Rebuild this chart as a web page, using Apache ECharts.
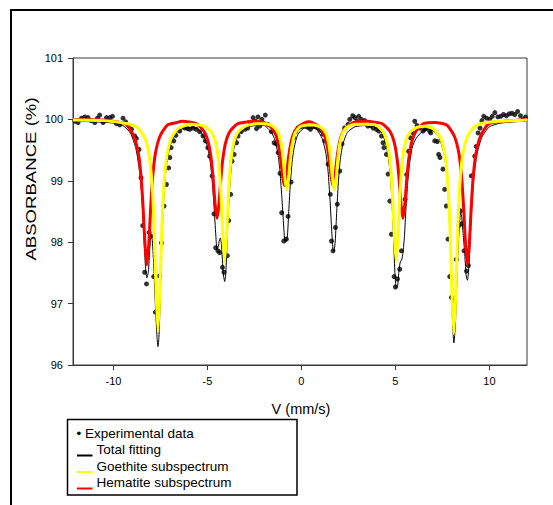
<!DOCTYPE html>
<html>
<head>
<meta charset="utf-8">
<script src="https://cdn.jsdelivr.net/npm/echarts@6/dist/echarts.min.js"></script>
<style>
html,body{margin:0;padding:0;background:#fff;}
#chart{width:553px;height:505px;}
</style>
</head>
<body>
<div id="chart"></div>
<script>
// ---- data: [velocity (mm/s), absorbance (%)] ----
const experimentalData = [
[-12.05,99.97],[-11.88,99.95],[-11.70,100.02],[-11.52,100.04],[-11.35,100.03],[-11.18,99.98],[-10.99,99.95],[-10.85,100.02],[-10.73,100.07],[-10.55,99.95],[-10.37,100.03],[-10.20,100.03],[-10.05,100.05],[-9.84,99.93],[-9.66,99.91],[-9.49,100.02],[-9.35,99.96],[-9.20,99.90],[-9.04,99.84],[-8.87,99.73],[-8.78,99.69],[-8.64,99.51],[-8.53,99.05],[-8.44,98.27],[-8.34,97.51],[-8.24,97.32],[-8.10,98.16],[-8.00,98.10],[-7.86,97.44],[-7.77,96.86],[-7.63,96.99],[-7.54,97.45],[-7.45,97.99],[-7.31,98.59],[-7.18,98.94],[-7.06,99.21],[-7.00,99.38],[-6.93,99.54],[-6.79,99.65],[-6.68,99.74],[-6.47,99.81],[-6.20,99.86],[-6.05,99.85],[-5.94,99.84],[-5.77,99.86],[-5.60,99.84],[-5.42,99.80],[-5.23,99.73],[-5.11,99.65],[-4.98,99.54],[-4.88,99.40],[-4.75,99.08],[-4.65,98.46],[-4.56,97.91],[-4.44,97.86],[-4.35,97.83],[-4.20,97.59],[-4.12,97.51],[-3.94,97.78],[-3.87,98.35],[-3.76,98.78],[-3.69,99.32],[-3.58,99.43],[-3.45,99.62],[-3.37,99.73],[-3.20,99.80],[-3.00,99.84],[-2.85,99.86],[-2.70,99.95],[-2.57,100.03],[-2.45,99.97],[-2.39,99.85],[-2.31,100.04],[-2.22,99.89],[-2.10,100.00],[-1.92,100.07],[-1.78,99.92],[-1.60,99.80],[-1.45,99.62],[-1.33,99.60],[-1.24,99.46],[-1.14,99.12],[-1.05,98.48],[-0.94,98.02],[-0.80,98.05],[-0.71,98.42],[-0.55,98.98],[-0.41,99.70],[-0.30,99.80],[-0.18,99.86],[-0.05,99.88],[0.09,99.89],[0.22,99.91],[0.35,99.87],[0.48,99.84],[0.62,99.89],[0.75,99.88],[0.88,99.86],[1.02,99.82],[1.15,99.76],[1.24,99.65],[1.42,99.27],[1.54,98.78],[1.60,98.02],[1.68,97.86],[1.81,98.24],[1.91,98.62],[2.04,99.16],[2.16,99.60],[2.30,99.86],[2.48,99.92],[2.57,100.00],[2.73,100.06],[2.84,100.03],[2.96,99.97],[3.05,100.05],[3.19,100.00],[3.37,99.98],[3.54,99.89],[3.68,99.90],[3.81,99.86],[3.99,99.84],[4.11,99.81],[4.26,99.73],[4.34,99.62],[4.39,99.54],[4.52,99.43],[4.61,99.11],[4.70,98.67],[4.79,98.13],[4.93,97.44],[5.00,97.27],[5.11,97.40],[5.23,97.56],[5.32,97.86],[5.52,98.70],[5.60,99.10],[5.70,99.48],[5.80,99.70],[5.94,99.78],[6.03,99.97],[6.15,99.90],[6.29,99.86],[6.47,99.81],[6.56,99.84],[6.65,99.86],[6.82,99.81],[6.88,99.78],[7.09,99.65],[7.23,99.64],[7.30,99.43],[7.37,99.38],[7.53,99.19],[7.62,98.86],[7.71,98.59],[7.80,98.05],[7.89,97.44],[7.98,97.10],[8.08,97.05],[8.24,97.72],[8.38,98.27],[8.47,98.51],[8.54,98.30],[8.65,97.86],[8.78,97.53],[8.88,97.62],[9.04,99.08],[9.22,99.40],[9.30,99.56],[9.40,99.78],[9.50,99.86],[9.60,99.98],[9.70,100.05],[9.85,100.02],[10.02,100.00],[10.15,100.05],[10.29,100.11],[10.45,100.04],[10.60,100.05],[10.75,100.08],[10.90,100.06],[11.05,100.09],[11.20,100.10],[11.35,100.08],[11.50,100.13],[11.65,100.06],[11.80,100.00],[11.92,100.04]
];

const totalFitting = [
[-12.15,99.97],[-11.0,99.96],[-10.0,99.94],[-9.5,99.90],[-9.1,99.78],[-8.8,99.52],[-8.6,99.13],[-8.5,98.80],[-8.4,98.25],[-8.3,97.62],[-8.22,97.42],[-8.14,97.52],[-8.07,97.88],[-8.0,98.13],[-7.93,98.02],[-7.85,97.58],[-7.76,96.92],[-7.68,96.45],[-7.63,96.30],[-7.58,96.45],[-7.53,96.88],[-7.43,97.95],[-7.33,98.68],[-7.18,99.25],[-6.93,99.62],[-6.53,99.82],[-6.0,99.87],[-5.5,99.85],[-5.2,99.72],[-5.0,99.56],[-4.85,99.31],[-4.75,99.03],[-4.65,98.59],[-4.55,98.10],[-4.49,97.88],[-4.42,97.93],[-4.36,98.04],[-4.31,98.07],[-4.25,97.95],[-4.19,97.65],[-4.14,97.45],[-4.08,97.36],[-4.02,97.50],[-3.95,98.05],[-3.88,98.55],[-3.78,99.05],[-3.63,99.47],[-3.38,99.74],[-2.98,99.86],[-2.43,99.90],[-2.0,99.90],[-1.6,99.79],[-1.4,99.66],[-1.25,99.44],[-1.15,99.18],[-1.05,98.78],[-0.97,98.39],[-0.89,98.03],[-0.84,98.00],[-0.75,98.08],[-0.68,98.46],[-0.60,98.90],[-0.50,99.29],[-0.38,99.55],[-0.2,99.75],[0.1,99.85],[0.45,99.86],[0.8,99.84],[1.1,99.69],[1.3,99.45],[1.42,99.15],[1.52,98.70],[1.60,98.25],[1.68,97.89],[1.73,97.85],[1.80,98.02],[1.88,98.51],[1.96,98.95],[2.06,99.32],[2.2,99.59],[2.45,99.79],[2.85,99.88],[3.4,99.90],[3.9,99.88],[4.3,99.77],[4.55,99.52],[4.7,99.19],[4.8,98.76],[4.9,98.09],[4.97,97.53],[5.04,97.26],[5.11,97.27],[5.18,97.51],[5.26,97.68],[5.33,97.71],[5.40,97.82],[5.48,98.09],[5.56,98.54],[5.65,98.96],[5.75,99.27],[5.9,99.55],[6.1,99.69],[6.5,99.82],[6.9,99.83],[7.3,99.72],[7.6,99.42],[7.75,99.03],[7.85,98.52],[7.95,97.65],[8.03,96.76],[8.11,96.36],[8.19,96.65],[8.27,97.40],[8.35,97.99],[8.41,98.30],[8.47,98.48],[8.53,98.40],[8.6,98.14],[8.68,97.85],[8.76,97.47],[8.83,97.38],[8.91,97.60],[9.0,98.19],[9.1,98.76],[9.2,99.14],[9.35,99.45],[9.6,99.71],[10.0,99.88],[10.6,99.94],[11.3,99.96],[12.0,99.97]
];

const goethiteSub = [
[-12.15,99.99],[-10.5,99.98],[-9.23,99.93],[-8.73,99.87],[-8.33,99.70],[-8.08,99.37],[-7.93,98.86],[-7.83,98.19],[-7.73,97.19],[-7.63,96.55],[-7.53,97.19],[-7.43,98.18],[-7.33,98.85],[-7.18,99.36],[-6.93,99.69],[-6.53,99.86],[-5.85,99.92],[-5.18,99.89],[-4.78,99.79],[-4.53,99.58],[-4.38,99.23],[-4.28,98.78],[-4.18,98.12],[-4.08,97.69],[-3.98,98.12],[-3.88,98.78],[-3.78,99.23],[-3.63,99.58],[-3.38,99.79],[-2.98,99.89],[-2.43,99.93],[-1.88,99.93],[-1.48,99.88],[-1.23,99.78],[-1.08,99.61],[-0.98,99.39],[-0.88,99.05],[-0.78,98.85],[-0.68,99.05],[-0.58,99.39],[-0.48,99.61],[-0.33,99.78],[-0.08,99.88],[0.32,99.91],[0.49,99.91],[0.65,99.91],[1.05,99.87],[1.30,99.78],[1.45,99.61],[1.55,99.39],[1.65,99.05],[1.75,98.85],[1.85,99.05],[1.95,99.39],[2.05,99.61],[2.20,99.78],[2.45,99.88],[2.85,99.92],[3.40,99.92],[3.94,99.91],[4.34,99.80],[4.59,99.58],[4.74,99.23],[4.84,98.78],[4.94,98.12],[5.04,97.69],[5.14,98.12],[5.24,98.78],[5.34,99.23],[5.49,99.57],[5.74,99.78],[6.14,99.87],[6.58,99.89],[7.01,99.85],[7.41,99.69],[7.66,99.37],[7.81,98.85],[7.91,98.17],[8.01,97.15],[8.11,96.51],[8.21,97.15],[8.31,98.17],[8.41,98.86],[8.56,99.38],[8.81,99.71],[9.21,99.88],[9.71,99.94],[10.5,99.97],[12.0,99.99]
];

const hematiteSub = [
[-12.15,100.00],[-10.5,99.99],[-9.82,99.96],[-9.32,99.92],[-8.92,99.73],[-8.67,99.44],[-8.52,99.03],[-8.42,98.55],[-8.32,97.96],[-8.22,97.63],[-8.12,97.96],[-8.02,98.55],[-7.92,99.03],[-7.77,99.44],[-7.52,99.73],[-7.12,99.91],[-6.62,99.95],[-6.35,99.97],[-5.59,99.93],[-5.19,99.81],[-4.94,99.61],[-4.79,99.33],[-4.69,99.01],[-4.59,98.61],[-4.49,98.39],[-4.39,98.61],[-4.29,99.01],[-4.19,99.33],[-4.04,99.61],[-3.79,99.81],[-3.39,99.93],[-2.89,99.96],[-2.70,99.97],[-2.00,99.95],[-1.60,99.87],[-1.35,99.74],[-1.20,99.55],[-1.10,99.34],[-1.00,99.07],[-0.90,98.92],[-0.80,99.07],[-0.70,99.34],[-0.60,99.55],[-0.45,99.74],[-0.20,99.87],[0.20,99.95],[0.39,99.96],[0.58,99.95],[0.98,99.87],[1.23,99.74],[1.38,99.55],[1.48,99.34],[1.58,99.07],[1.68,98.92],[1.78,99.07],[1.88,99.34],[1.98,99.55],[2.13,99.74],[2.38,99.87],[2.78,99.95],[3.54,99.97],[3.80,99.96],[4.30,99.93],[4.70,99.81],[4.95,99.61],[5.10,99.33],[5.20,99.01],[5.30,98.61],[5.40,98.39],[5.50,98.61],[5.60,99.01],[5.70,99.33],[5.85,99.61],[6.10,99.81],[6.50,99.93],[7.12,99.95],[7.73,99.91],[8.13,99.73],[8.38,99.44],[8.53,99.03],[8.63,98.55],[8.73,97.96],[8.83,97.63],[8.93,97.96],[9.03,98.55],[9.13,99.03],[9.28,99.44],[9.53,99.73],[9.93,99.92],[10.43,99.96],[12.0,100.00]
];

const xTickValues = [-10, -5, 0, 5, 10];
const yTickValues = [96, 97, 98, 99, 100, 101];
const legendLabels = ['Experimental data', 'Total fitting', 'Goethite subspectrum', 'Hematite subspectrum'];
const axisTitles = { x: 'V (mm/s)', y: 'ABSORBANCE (%)' };

// ---- chart ----
const FONT = '"Liberation Sans", Arial, Helvetica, sans-serif';
const AX = '#3a3a3a';
const chart = echarts.init(document.getElementById('chart'), null, { renderer: 'svg' });

const legendColors = ['#000000', '#000000', '#ffff00', '#ff0000'];
const legendRowsY = [433.3, 449.5, 466, 482.5];
const legendGraphics = [
  { type: 'rect', shape: { x: 67.5, y: 419.5, width: 229.5, height: 75.5 },
    style: { fill: '#fff', stroke: '#000', lineWidth: 1.5 }, z: 100 }
];
legendLabels.forEach((lab, i) => {
  if (i === 0) {
    legendGraphics.push({ type: 'text', x: 76.5, y: legendRowsY[i], z: 101,
      style: { text: '\u2022 ' + lab, fontSize: 13.5, fontFamily: FONT, fill: '#000',
               textAlign: 'left', textVerticalAlign: 'middle', verticalAlign: 'middle' } });
  } else {
    legendGraphics.push({ type: 'line', z: 101,
      shape: { x1: 77, y1: legendRowsY[i] + 6, x2: 92.5, y2: legendRowsY[i] + 6 },
      style: { stroke: legendColors[i], lineWidth: 2 } });
    legendGraphics.push({ type: 'text', x: 96.5, y: legendRowsY[i], z: 101,
      style: { text: lab, fontSize: 13.5, fontFamily: FONT, fill: '#000',
               textAlign: 'left', textVerticalAlign: 'middle', verticalAlign: 'middle' } });
  }
});

const option = {
  animation: false,
  backgroundColor: '#ffffff',
  grid: { left: 73, right: 26, top: 58, bottom: 140, show: true,
          borderColor: AX, borderWidth: 1, backgroundColor: 'transparent' },
  xAxis: {
    type: 'value', min: -12.15, max: 12,
    axisLine: { show: true, onZero: false, lineStyle: { color: AX, width: 1 } },
    axisTick: { show: true, inside: false, length: 5, customValues: xTickValues,
                lineStyle: { color: AX, width: 1 } },
    axisLabel: { show: true, customValues: xTickValues, margin: 10, fontSize: 11,
                 fontFamily: FONT, color: '#000' },
    splitLine: { show: false }
  },
  yAxis: {
    type: 'value', min: 96, max: 101, interval: 1,
    axisLine: { show: true, onZero: false, lineStyle: { color: AX, width: 1 } },
    axisTick: { show: true, inside: false, length: 5, customValues: yTickValues,
                lineStyle: { color: AX, width: 1 } },
    axisLabel: { show: true, customValues: yTickValues, margin: 10, fontSize: 11,
                 fontFamily: FONT, color: '#000' },
    splitLine: { show: false }
  },
  graphic: [
    { type: 'rect', shape: { x: 11, y: 10, width: 700, height: 700 },
      style: { fill: 'none', stroke: '#000', lineWidth: 2 }, silent: true },
    { type: 'text', x: 31, y: 179, rotation: Math.PI / 2, scaleX: 1.2,
      style: { text: axisTitles.y, fontSize: 15.5, fontFamily: FONT, fill: '#000',
               textAlign: 'center', textVerticalAlign: 'middle', verticalAlign: 'middle' } },
    { type: 'text', x: 301, y: 408.5,
      style: { text: axisTitles.x, fontSize: 14.5, fontFamily: FONT, fill: '#000',
               textAlign: 'center', textVerticalAlign: 'middle', verticalAlign: 'middle' } }
  ].concat(legendGraphics),
  series: [
    { name: legendLabels[0], type: 'scatter', data: experimentalData,
      symbol: 'circle', symbolSize: 5, itemStyle: { color: '#000' }, z: 2 },
    { name: legendLabels[1], type: 'line', data: totalFitting, showSymbol: false,
      smooth: 0.2, lineStyle: { color: '#000', width: 1 }, z: 3 },
    { name: legendLabels[3], type: 'line', data: hematiteSub, showSymbol: false,
      smooth: 0.2, lineStyle: { color: '#ff0000', width: 3 }, z: 4 },
    { name: legendLabels[2], type: 'line', data: goethiteSub, showSymbol: false,
      smooth: 0.2, lineStyle: { color: '#ffff00', width: 3 }, z: 5 }
  ]
};
chart.setOption(option);
</script>
</body>
</html>
